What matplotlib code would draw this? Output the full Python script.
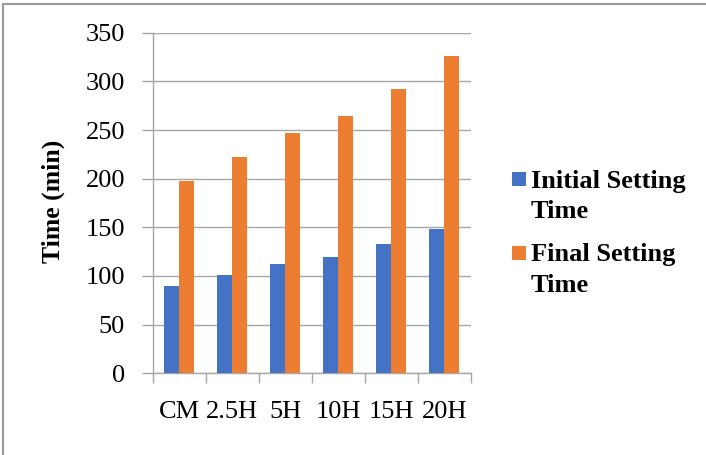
import matplotlib
matplotlib.use("Agg")
import matplotlib.pyplot as plt
from matplotlib.patches import Rectangle
import numpy as np

categories = ["CM", "2.5H", "5H", "10H", "15H", "20H"]
initial_setting = [90, 101, 112, 120, 133, 148]
final_setting = [198, 222, 247, 264, 292, 326]
y_ticks = [0, 50, 100, 150, 200, 250, 300, 350]
series_names = ["Initial Setting", "Final Setting"]

blue = "#4472C4"
orange = "#ED7D31"
grid_gray = "#A6A6A6"

plt.rcParams["font.family"] = ["Liberation Serif", "DejaVu Serif"]

W, H = 706, 455
fig = plt.figure(figsize=(W / 100, H / 100), dpi=100)
ax = fig.add_axes([152.7 / W, (H - 373.3) / H, 318 / W, 340.6 / H])

x = np.arange(len(categories))
w = 0.287
ax.bar(x - w / 2, initial_setting, width=w, color=blue, edgecolor="none", zorder=3)
ax.bar(x + w / 2, final_setting, width=w, color=orange, edgecolor="none", zorder=3)

ax.set_xlim(-0.5, len(categories) - 0.5)
ax.set_ylim(0, 350)
ax.set_yticks(y_ticks)
ax.set_yticklabels([str(v) for v in y_ticks], fontsize=19)
ax.yaxis.grid(True, color=grid_gray, linewidth=1.0, zorder=0)

# category labels at centres, tick marks at category boundaries
ax.set_xticks(x)
ax.set_xticklabels(categories, fontsize=19)
ax.tick_params(axis="x", length=0, pad=20)
ax.set_xticks(np.arange(len(categories) + 1) - 0.5, minor=True)
ax.tick_params(axis="x", which="minor", length=7, color=grid_gray, width=1.0)
ax.tick_params(axis="y", length=8, color=grid_gray, width=1.0, pad=12)

for side in ["top", "right"]:
    ax.spines[side].set_visible(False)
for side in ["left", "bottom"]:
    ax.spines[side].set_color(grid_gray)
    ax.spines[side].set_linewidth(1.0)

ax.set_ylabel("Time (min)", fontsize=18.5, fontweight="bold", va="center")
ax.yaxis.set_label_coords((53.5 - 152.7) / 318, (373.3 - 201.7) / 340.6)

# legend: square marker beside the first line of each two-line entry
def fx(px):
    return px / W

def fy(py):
    return (H - py) / H

entries = [(blue, series_names[0], 171.7, 188.0, 218.5),
           (orange, series_names[1], 246.0, 261.5, 292.0)]
for color, name, sq_top, base1, base2 in entries:
    fig.patches.append(Rectangle((fx(511.7), fy(sq_top + 14)), 14 / W, 14 / H,
                                 transform=fig.transFigure, facecolor=color,
                                 edgecolor="none"))
    fig.text(fx(531), fy(base1), name, fontsize=19, fontweight="bold",
             ha="left", va="baseline")
    fig.text(fx(531), fy(base2), "Time", fontsize=19, fontweight="bold",
             ha="left", va="baseline")

# outer frame
fig.patches.append(Rectangle((fx(3), -0.1), 1.2, fy(4) + 0.1,
                             transform=fig.transFigure, fill=False,
                             edgecolor="#9A9A9A", linewidth=1.5))

fig.savefig("out.png", dpi=100)
